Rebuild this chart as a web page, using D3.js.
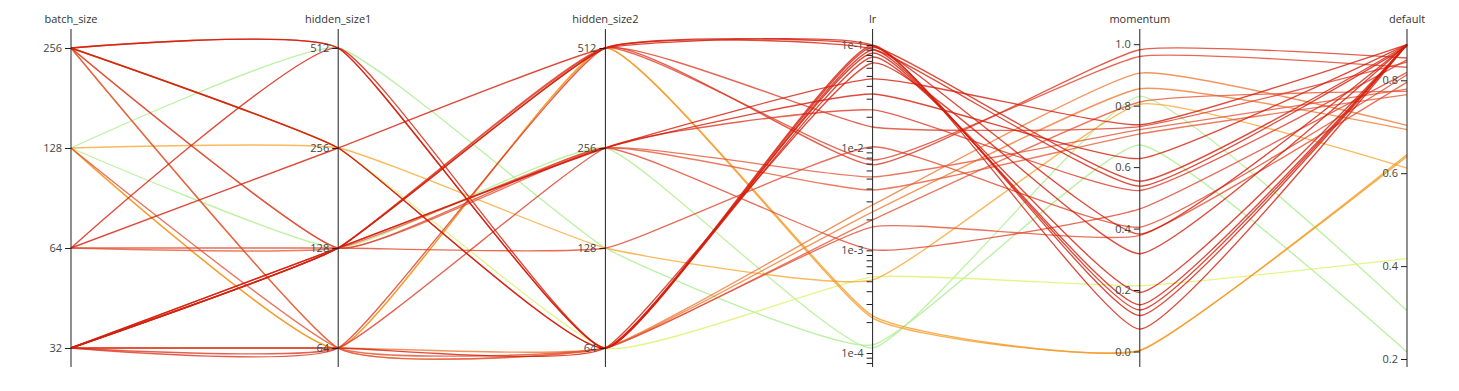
<!DOCTYPE html>
<html>
<head>
<meta charset="utf-8">
<script src="https://cdn.jsdelivr.net/npm/d3@7"></script>
<style>
  html, body { margin: 0; padding: 0; background: #fff; }
  svg { display: block; }
  text { font-family: "Open Sans", "Noto Sans", sans-serif; }
</style>
</head>
<body>
<svg id="chart" width="1459" height="391"></svg>
<script>
// ---- data ----
const dimensions = ["batch_size", "hidden_size1", "hidden_size2", "lr", "momentum", "default"];
const batchSize   = [256, 256, 64, 256, 256, 32, 64, 32, 32, 32, 32, 32, 128, 128, 32, 32, 256, 256, 64, 128, 32, 128, 128, 64, 256, 32, 256, 256, 128];
const hiddenSize1 = [512, 512, 512, 256, 256, 64, 256, 128, 128, 128, 128, 64, 64, 64, 128, 128, 128, 128, 128, 128, 64, 512, 256, 128, 256, 64, 64, 64, 64];
const hiddenSize2 = [64, 64, 64, 64, 64, 64, 512, 512, 512, 512, 512, 512, 512, 512, 256, 256, 256, 256, 256, 256, 256, 128, 128, 128, 64, 64, 64, 64, 64];
const lr = [0.0995, 0.0956, 0.0894, 0.0836, 0.0764, 0.0668, 0.0998, 0.0978, 0.0914, 0.0159, 0.00759, 0.00679, 0.00023, 0.000219,
            0.0467, 0.0333, 0.00519, 0.00101, 0.00387, 0.000112, 0.0233, 0.00012, 0.000515, 0.0102, 0.000551, 0.00277, 0.00237, 0.00198, 0.00169];
const momentum = [0.073, 0.117, 0.135, 0.152, 0.192, 0.318, 0.382, 0.554, 0.538, 0.732, 0.960, 0.982, 0.002, 0.004,
                  0.738, 0.628, 0.722, 0.464, 0.708, 0.830, 0.524, 0.672, 0.805, 0.405, 0.214, 0.906, 0.855, 0.812, 0.378];
const defaultScore = [0.877, 0.877, 0.877, 0.877, 0.876, 0.877, 0.877, 0.876, 0.873, 0.839, 0.828, 0.848, 0.640, 0.636,
                      0.877, 0.877, 0.781, 0.817, 0.769, 0.304, 0.844, 0.215, 0.611, 0.812, 0.416, 0.703, 0.694, 0.776, 0.796];

const tickBatch = [32, 64, 128, 256];
const tickHidden = [64, 128, 256, 512];
const tickLrMajor = [1e-4, 1e-3, 1e-2, 1e-1];
const tickLrLabels = ["1e-4", "1e-3", "1e-2", "1e-1"];
const tickMomentum = [0, 0.2, 0.4, 0.6, 0.8, 1.0];
const tickDefault = [0.2, 0.4, 0.6, 0.8];

const colorStops = [0.2, 0.3, 0.42, 0.6, 0.64, 0.7, 0.78, 0.84, 0.88];
const colorRange = ["#a9ec8e", "#adee90", "#dcf46a", "#f9ad38", "#f59a26", "#ef7a38", "#e4563a", "#de3e28", "#d41a08"];

// ---- build rows ----
const rows = batchSize.map((b, i) => ({
  batch_size: b, hidden_size1: hiddenSize1[i], hidden_size2: hiddenSize2[i],
  lr: lr[i], momentum: momentum[i], default: defaultScore[i]
}));

const svg = d3.select("#chart");
const axisTop = 29, axisBottom = 367;

const x = d3.scalePoint().domain(dimensions).range([71, 1407]);

// lr minor ticks
const lrTicks = [];
[1e-5, 1e-4, 1e-3, 1e-2].forEach(p => { for (let k = 1; k <= 9; k++) lrTicks.push(p * k); });
lrTicks.push(1e-1);

const y = {
  batch_size: d3.scaleLog().base(2).domain([32, 256]).range([348, 48]),
  hidden_size1: d3.scaleLog().base(2).domain([64, 512]).range([348, 48]),
  hidden_size2: d3.scaleLog().base(2).domain([64, 512]).range([348, 48]),
  lr: d3.scaleLog().domain([1e-4, 1e-1]).range([353, 45]),
  momentum: d3.scaleLinear().domain([0, 1]).range([351.5, 44.2]),
  default: d3.scaleLinear().domain([0.2, 0.8]).range([359, 80.3])
};

const color = d3.scaleLinear().domain(colorStops).range(colorRange).interpolate(d3.interpolateRgb);

const line = d3.line().curve(d3.curveCardinal.tension(0.6));

const sorted = rows.slice().sort((a, b) => a.default - b.default);

svg.append("g").selectAll("path")
  .data(sorted)
  .join("path")
  .attr("d", d => line(dimensions.map(k => [x(k), y[k](d[k])])))
  .attr("fill", "none")
  .attr("stroke", d => color(d.default))
  .attr("stroke-width", 1.35)
  .attr("stroke-opacity", 0.8);

// ---- axes ----
dimensions.forEach(k => {
  const g = svg.append("g").attr("transform", `translate(${x(k)},0)`);
  let ax = d3.axisLeft(y[k]).tickSizeOuter(0);
  if (k === "batch_size") ax.tickValues(tickBatch).tickFormat(d3.format("d"));
  else if (k === "hidden_size1" || k === "hidden_size2") ax.tickValues(tickHidden).tickFormat(d3.format("d"));
  else if (k === "lr") {
    const vals = lrTicks.filter(v => y.lr(v) >= axisTop && y.lr(v) <= axisBottom);
    ax.tickValues(vals).tickFormat(v => {
      const idx = tickLrMajor.findIndex(m => Math.abs(m - v) / m < 1e-6);
      return idx >= 0 ? tickLrLabels[idx] : "";
    });
  }
  else if (k === "momentum") ax.tickValues(tickMomentum).tickFormat(d3.format(".1f"));
  else ax.tickValues(tickDefault).tickFormat(d3.format(".1f"));
  g.call(ax);
  g.select(".domain").remove();
  g.selectAll(".tick line").attr("stroke", "#222");
  g.selectAll(".tick text").attr("fill", "#444").style("font-size", "11px")
    .style("font-family", "'Open Sans', 'Noto Sans', sans-serif");
  g.append("line").attr("x1", 0).attr("x2", 0).attr("y1", axisTop).attr("y2", axisBottom)
    .attr("stroke", "#222").attr("stroke-width", 1);
  g.append("text").attr("x", 0).attr("y", 23).attr("text-anchor", "middle")
    .attr("fill", "#333").style("font-size", "11px").text(k);
});
</script>
</body>
</html>
